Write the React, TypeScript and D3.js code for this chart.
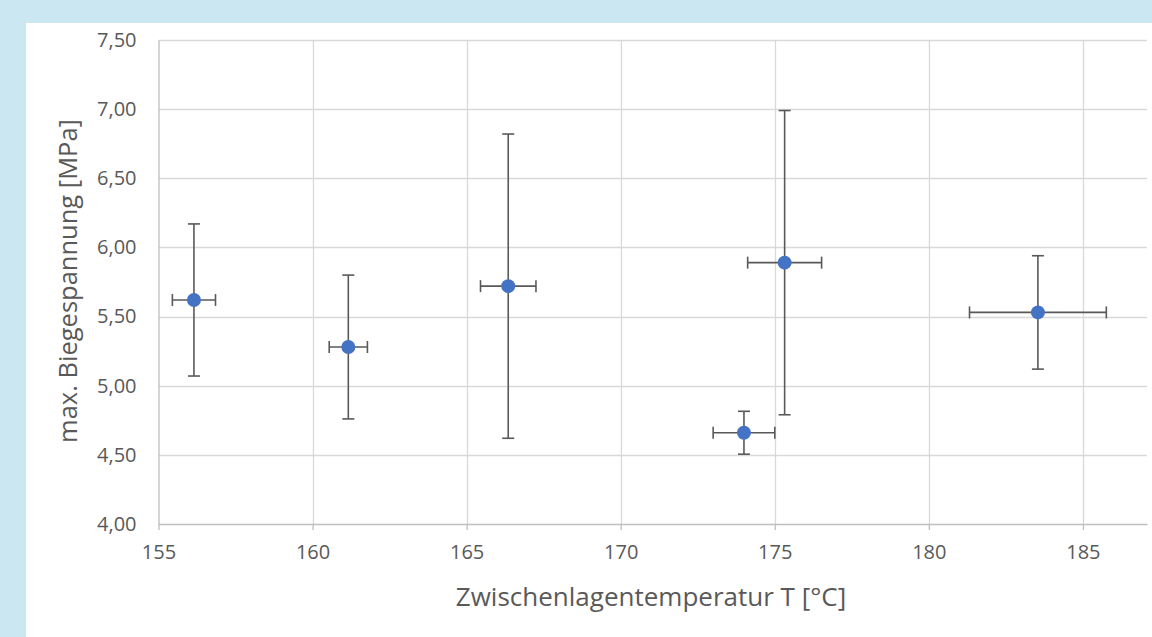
import React, { useRef, useEffect } from "react";
import * as d3 from "d3";

// Zwischenlagentemperatur [°C] and max. Biegespannung [MPa] with their spreads
const temps = [156.15, 161.16, 166.35, 174.0, 175.32, 183.54];
const tempErr = [0.7, 0.62, 0.9, 1.0, 1.2, 2.22];
const stress = [5.62, 5.28, 5.72, 4.66, 5.89, 5.53];
const stressErr = [0.55, 0.52, 1.1, 0.155, 1.1, 0.41];

const xTicks = [155, 160, 165, 170, 175, 180, 185];
const yTicks = [4.0, 4.5, 5.0, 5.5, 6.0, 6.5, 7.0, 7.5];

const xTitle = "Zwischenlagentemperatur T [°C]";
const yTitle = "max. Biegespannung [MPa]";

const W = 1152;
const H = 637;

const App = () => {
  const svgRef = useRef<SVGSVGElement>(null);

  useEffect(() => {
    const svg = d3.select(svgRef.current);
    svg.selectAll("*").remove();

    const left = 158.5;
    const right = 1147;
    const top = 40;
    const bottom = 524;

    const x = d3.scaleLinear().domain([155, 187.08]).range([left, right]);
    const y = d3.scaleLinear().domain([4, 7.5]).range([bottom, top]);

    svg.append("rect").attr("width", W).attr("height", H).attr("fill", "#cbe8f2");
    svg.append("rect").attr("x", 26).attr("y", 23).attr("width", W - 26).attr("height", H - 23).attr("fill", "#ffffff");

    const font = "'Open Sans', sans-serif";
    const textCol = "#595959";

    // gridlines
    svg.append("g")
      .selectAll("line")
      .data(yTicks.slice(1))
      .join("line")
      .attr("x1", left).attr("x2", right)
      .attr("y1", (d) => Math.round(y(d)) + 0.5).attr("y2", (d) => Math.round(y(d)) + 0.5)
      .attr("stroke", "#d9d9d9").attr("stroke-width", 1.3);

    svg.append("g")
      .selectAll("line")
      .data(xTicks.slice(1))
      .join("line")
      .attr("y1", top).attr("y2", bottom)
      .attr("x1", (d) => Math.round(x(d)) + 0.5).attr("x2", (d) => Math.round(x(d)) + 0.5)
      .attr("stroke", "#d9d9d9").attr("stroke-width", 1.3);

    // x axis
    const xAxis = svg.append("g")
      .attr("transform", `translate(0,${bottom})`)
      .call(d3.axisBottom(x).tickValues(xTicks).tickSize(6).tickSizeOuter(0).tickPadding(15).tickFormat(d3.format("d")));
    xAxis.select(".domain").attr("stroke", "#bfbfbf").attr("stroke-width", 1.3);
    xAxis.selectAll(".tick line").attr("stroke", "#bfbfbf").attr("stroke-width", 1.3);
    xAxis.selectAll("text").attr("fill", textCol).attr("font-family", font).attr("font-size", 20);

    // y axis
    const yAxis = svg.append("g")
      .attr("transform", `translate(${left},0)`)
      .call(d3.axisLeft(y).tickValues(yTicks).tickSize(0).tickSizeOuter(0).tickPadding(22)
        .tickFormat((d) => d3.format(".2f")(d as number).replace(".", ",")));
    yAxis.select(".domain").attr("stroke", "#bfbfbf").attr("stroke-width", 1.3);
    yAxis.selectAll("text").attr("fill", textCol).attr("font-family", font).attr("font-size", 20);

    // titles
    svg.append("text")
      .attr("x", 651).attr("y", 606)
      .attr("text-anchor", "middle")
      .attr("fill", textCol).attr("font-family", font).attr("font-size", 26)
      .text(xTitle);

    svg.append("text")
      .attr("transform", `translate(77,281) rotate(-90)`)
      .attr("text-anchor", "middle")
      .attr("fill", textCol).attr("font-family", font).attr("font-size", 25.5)
      .text(yTitle);

    const pts = temps.map((t, i) => ({ t, te: tempErr[i], s: stress[i], se: stressErr[i] }));
    const g = svg.append("g");
    const errCol = "#595959";
    const cap = 6;

    pts.forEach((p) => {
      const cx = x(p.t);
      const cy = y(p.s);
      // vertical error bar
      g.append("line").attr("x1", cx).attr("x2", cx).attr("y1", y(p.s + p.se)).attr("y2", y(p.s - p.se))
        .attr("stroke", errCol).attr("stroke-width", 1.6);
      [p.s + p.se, p.s - p.se].forEach((v) => {
        g.append("line").attr("x1", cx - cap).attr("x2", cx + cap).attr("y1", y(v)).attr("y2", y(v))
          .attr("stroke", errCol).attr("stroke-width", 1.6);
      });
      // horizontal error bar
      g.append("line").attr("x1", x(p.t - p.te)).attr("x2", x(p.t + p.te)).attr("y1", cy).attr("y2", cy)
        .attr("stroke", errCol).attr("stroke-width", 1.6);
      [p.t - p.te, p.t + p.te].forEach((v) => {
        g.append("line").attr("x1", x(v)).attr("x2", x(v)).attr("y1", cy - cap).attr("y2", cy + cap)
          .attr("stroke", errCol).attr("stroke-width", 1.6);
      });
    });

    g.selectAll("circle")
      .data(pts)
      .join("circle")
      .attr("cx", (d) => x(d.t))
      .attr("cy", (d) => y(d.s))
      .attr("r", 7)
      .attr("fill", "#4472c4");
  }, []);

  return (
    <svg ref={svgRef} width={W} height={H} style={{ position: "fixed", left: 0, top: 0, display: "block" }}></svg>
  );
};

export default App;
